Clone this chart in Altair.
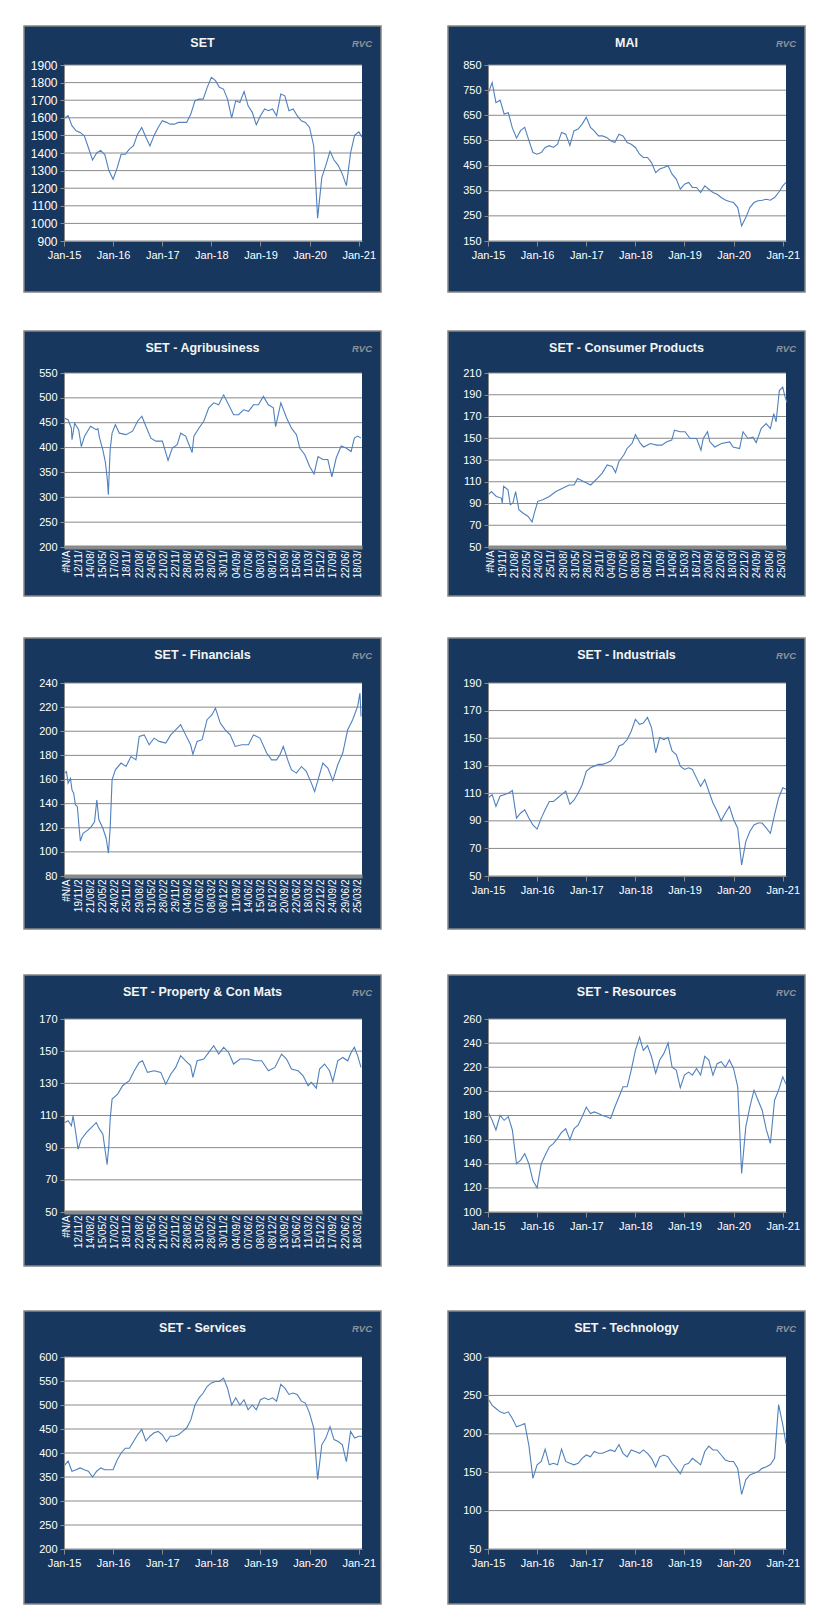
import altair as alt
import pandas as pd

# ---------------- data ----------------
months = [f"{y}-{m:02d}-01T00:00:00" for y in range(2015, 2021) for m in range(1, 13)] + \
         ["2021-01-01T00:00:00", "2021-01-25T00:00:00"]

set_vals = [1596, 1612, 1555, 1526, 1517, 1498, 1431, 1360, 1400, 1415, 1390, 1300,
            1251, 1317, 1393, 1393, 1422, 1441, 1507, 1545, 1490, 1440, 1500, 1545,
            1583, 1574, 1564, 1564, 1574, 1574, 1574, 1621, 1697, 1706, 1706, 1773,
            1830, 1811, 1773, 1763, 1706, 1600, 1697, 1687, 1750, 1668, 1631, 1560,
            1612, 1650, 1640, 1650, 1612, 1735, 1725, 1640, 1650, 1612, 1583, 1574,
            1545, 1440, 1030, 1260, 1330, 1410, 1360, 1330, 1280, 1215, 1400, 1500,
            1520, 1490]

mai_vals = [735, 780, 700, 710, 655, 660, 600, 560, 590, 602, 550, 502,
            495, 502, 522, 529, 522, 535, 582, 575, 530, 588, 595, 615,
            642, 602, 588, 568, 568, 562, 549, 542, 575, 568, 542, 535,
            522, 495, 482, 482, 462, 422, 436, 442, 449, 416, 396, 356,
            376, 383, 363, 363, 343, 369, 356, 343, 336, 323, 313, 307,
            303, 283, 210, 243, 283, 303, 310, 312, 316, 312, 323, 343,
            369, 383]

ind_vals = [106.6, 109, 100.5, 108, 109, 110, 112, 92, 95.7, 98, 92, 87,
            84, 92, 98, 104, 104, 106.6, 109, 111.5, 102, 105, 110, 116,
            126, 128.5, 129.7, 131, 131, 132, 133.4, 137, 144.3, 145.5, 149, 155,
            163.7, 160, 161, 165, 157.7, 139.4, 150.4, 149, 150.4, 140.7, 138, 129.7,
            127.3, 128.5, 127.3, 121, 115, 120, 111.5, 103, 97, 90, 95.7, 100.5,
            91, 84.7, 58, 75, 82.3, 87, 88.4, 88.4, 84.7, 81, 94.5, 106.6,
            114, 113]

res_vals = [183, 176, 168, 180, 176, 179, 168, 140, 143, 148.4, 140, 126,
            120, 140, 147, 154, 156.7, 161, 166, 169, 160, 169, 172, 179,
            187, 181.7, 183, 181.7, 180, 179, 177.5, 187, 195.5, 203.8, 203.8, 217.6,
            234, 245, 234, 238, 228.7, 215, 226, 231.5, 240, 220, 217.6, 203,
            213.5, 216, 213.5, 219, 213.5, 229, 226, 213.5, 223, 224.6, 220, 226,
            219, 203.8, 132, 170.6, 187, 201, 192.7, 184.4, 168, 157, 192.7, 201,
            212, 206]

srv_vals = [373, 383, 362, 365, 369, 365, 362, 350, 362, 369, 365, 365,
            365, 386, 400, 410, 410, 424, 438, 449, 425, 435, 442, 445,
            438, 424, 435, 435, 438, 445, 452, 469, 500, 515, 525, 539,
            546, 549, 549, 556, 535, 500, 515, 500, 511, 490, 500, 490,
            511, 515, 511, 515, 508, 543, 535, 522, 525, 522, 508, 504,
            483, 452, 345, 417, 431, 455, 428, 424, 417, 382, 445, 431,
            435, 435]

tech_vals = [246, 237, 233, 228.6, 226.5, 228.6, 220, 209, 211, 213.5, 185, 142,
             159.6, 164, 180, 159.6, 161.6, 159.6, 180, 164, 161.6, 159.6, 161.6, 168,
             172.4, 170, 177, 174.6, 174.6, 177, 179, 177, 186, 174.6, 170, 179,
             177, 174.6, 179, 174.6, 168, 157, 170, 172.4, 170, 161.6, 155, 148,
             159.6, 161.6, 168, 164, 159.6, 177, 184, 179, 179, 172.4, 166, 164,
             164, 155, 121, 140, 146.5, 148.6, 150.7, 155, 157, 160, 168, 238,
             212, 187]

# category-axis panels: position on the category axis (label index units) and value
agri_pos = [-0.19, 0.14, 0.41, 0.46, 0.68, 1.01, 1.23, 1.50, 1.99, 2.46, 2.60, 2.73, 3.01, 3.22,
            3.38, 3.46, 3.61, 3.77, 4.04, 4.37, 4.92, 5.46, 5.87, 6.23, 6.56, 6.97, 7.38, 7.92,
            8.39, 8.74, 9.15, 9.43, 9.84, 10.38, 10.52, 10.93, 11.34, 11.75, 12.16, 12.57, 12.98,
            13.39, 13.80, 14.21, 14.62, 15.03, 15.44, 15.85, 16.26, 16.67, 17.08, 17.27, 17.70,
            18.17, 18.58, 18.99, 19.26, 19.67, 20.08, 20.44, 20.77, 21.17, 21.58, 21.91, 22.27,
            22.68, 23.09, 23.50, 23.77, 24.04, 24.32]
agri_vals = [459.5, 456, 439, 416, 449, 436, 402, 423, 443, 436, 438, 420, 395, 370,
             335, 305, 396, 429, 446, 429, 426, 433, 453, 463, 443, 419, 413, 413,
             374, 399, 406, 429, 423, 390, 423, 439, 453, 480, 490, 486, 506,
             486, 466, 466, 476, 473, 486, 486, 503, 486, 480, 442, 490,
             460, 439, 426, 399, 386, 362, 347, 382, 376, 376, 341, 379,
             403, 399, 392, 419, 423, 419]
agri_labels = ["#N/A", "12/11/", "14/08/", "15/05/", "17/02/", "18/11/", "22/08/", "24/05/",
               "21/02/", "22/11/", "28/08/", "31/05/", "28/02/", "30/11/", "04/09/", "07/06/",
               "08/03/", "08/12/", "13/09/", "15/06/", "11/03/", "15/12/", "17/09/", "22/06/",
               "18/03/"]

cons_pos = [-0.19, 0.08, 0.49, 0.90, 0.98, 1.09, 1.45, 1.64, 1.86, 2.08, 2.35, 2.68, 3.09, 3.44,
            3.63, 3.91, 4.32, 4.86, 5.41, 5.96, 6.50, 6.91, 7.19, 7.73, 8.28, 8.83, 9.23, 9.64,
            10.05, 10.33, 10.60, 11.01, 11.28, 11.69, 11.97, 12.38, 12.65, 13.20, 13.74, 14.15,
            14.56, 14.97, 15.19, 15.66, 16.07, 16.48, 17.02, 17.38, 17.57, 17.92, 18.11, 18.52,
            19.07, 19.75, 20.03, 20.57, 20.85, 21.26, 21.67, 21.94, 22.35, 22.76, 23.11, 23.39,
            23.58, 23.85, 24.13, 24.32, 24.48]
cons_vals = [98, 101, 96.5, 95, 90.5, 105.7, 102.6, 89, 90.5, 101, 84.4, 81.3, 78.3, 73,
             81.3, 92, 93.5, 96.5, 101, 104, 107, 107, 113, 110, 107, 113, 118, 125.4,
             124, 118.5, 128.5, 134.6, 140.6, 145.2, 153.5, 145.2, 142, 145.2, 143.7, 143.7,
             146.7, 148.3, 157.4, 156, 156, 149.8, 149.8, 139, 149.8, 156, 146.7, 142,
             145.2, 146.7, 142, 140.6, 156, 149.8, 151, 146, 158.9, 163.5, 158.9, 172.6,
             165, 193.9, 197, 188, 183]
cons_labels = ["#N/A", "19/11/", "21/08/", "22/05/", "24/02/", "25/11/", "29/08/", "31/05/",
               "28/02/", "29/11/", "04/09/", "07/06/", "08/03/", "08/12/", "11/09/", "14/06/",
               "15/03/", "16/12/", "20/09/", "22/06/", "18/03/", "22/12/", "24/09/", "29/06/",
               "25/03/"]

fin_pos = [-0.14, 0.00, 0.14, 0.33, 0.46, 0.60, 0.74, 0.90, 1.04, 1.15, 1.37, 1.78, 2.05, 2.32,
           2.51, 2.68, 3.01, 3.28, 3.47, 3.61, 3.77, 4.04, 4.51, 4.92, 5.33, 5.74, 6.01, 6.42,
           6.83, 7.24, 7.65, 8.20, 8.61, 9.02, 9.43, 9.84, 10.25, 10.44, 10.79, 11.20, 11.61,
           12.02, 12.30, 12.70, 13.11, 13.52, 13.93, 14.48, 15.03, 15.44, 15.98, 16.53, 16.94,
           17.35, 17.62, 17.90, 18.31, 18.58, 18.99, 19.40, 19.81, 20.22, 20.49, 20.77, 21.17,
           21.58, 21.99, 22.40, 22.81, 23.22, 23.63, 24.04, 24.23, 24.32]
fin_vals = [165.3, 166.6, 157, 161, 151.4, 148.6, 139, 137.6, 121, 109, 115.4, 118.2, 121, 125,
            143, 126.6, 119.6, 111.3, 99, 119.6, 159.7, 168, 173.6, 170.8, 179, 176.3, 195.7, 197,
            188.8, 194.3, 191.6, 190.2, 197, 201.2, 205.4, 197, 188.8, 181, 191.6, 193, 209.6,
            213.7, 219.2, 206.8, 201.2, 197, 187.4, 188.8, 188.8, 197, 194.3, 181.9, 176.3,
            176.3, 180.4, 187.4, 175, 168, 165.3, 170.8, 166.6, 157, 150, 159.7, 173.6,
            169.4, 159, 172.2, 181.9, 201.2, 209.6, 220.6, 231.7, 212.3]
fin_labels = ["#N/A", "19/11/2", "21/08/2", "22/05/2", "24/02/2", "25/11/2", "29/08/2", "31/05/2",
              "28/02/2", "29/11/2", "04/09/2", "07/06/2", "08/03/2", "08/12/2", "11/09/2", "14/06/2",
              "15/03/2", "16/12/2", "20/09/2", "22/06/2", "18/03/2", "22/12/2", "24/09/2", "29/06/2",
              "25/03/2"]

prop_pos = [-0.14, 0.14, 0.41, 0.55, 0.77, 0.96, 1.23, 1.64, 2.05, 2.46, 2.73, 3.01, 3.22, 3.36,
            3.50, 3.61, 3.77, 4.23, 4.64, 5.19, 5.60, 6.01, 6.28, 6.69, 7.24, 7.79, 8.20, 8.61,
            9.02, 9.43, 9.84, 10.25, 10.44, 10.79, 11.34, 11.75, 12.16, 12.57, 12.98, 13.39,
            13.80, 14.34, 15.03, 15.57, 16.12, 16.67, 17.21, 17.76, 18.17, 18.58, 19.13, 19.54,
            19.95, 20.22, 20.63, 20.90, 21.31, 21.72, 21.99, 22.40, 22.81, 23.22, 23.50, 23.77,
            24.04, 24.32]
prop_vals = [105.6, 106.7, 103.6, 109.8, 99.4, 89, 95.3, 99.4, 102.5, 105.6, 101.5, 98.4, 87, 79.5,
             91.1, 107.7, 120.2, 123.3, 128.5, 131.6, 137.8, 143, 144, 136.8, 137.8, 136.8, 129.5, 135.7,
             139.9, 147.2, 144, 141, 133.7, 144, 145.1, 149.2, 153.4, 148.2, 152.4, 149.2,
             142, 145.1, 145.1, 144, 144, 137.8, 139.9, 148.2, 145.1, 138.9, 137.8, 134.7,
             128.5, 130.6, 127, 138.9, 142, 137.8, 131, 144, 146.1, 144, 149.2, 152.4,
             147.2, 139.9]
prop_labels = ["#N/A", "12/11/2", "14/08/2", "15/05/2", "17/02/2", "18/11/2", "22/08/2", "24/05/2",
               "21/02/2", "22/11/2", "28/08/2", "31/05/2", "28/02/2", "30/11/2", "04/09/2", "07/06/2",
               "08/03/2", "08/12/2", "13/09/2", "15/06/2", "11/03/2", "15/12/2", "17/09/2", "22/06/2",
               "18/03/2"]

set_ticks = [900, 1000, 1100, 1200, 1300, 1400, 1500, 1600, 1700, 1800, 1900]
mai_ticks = [150, 250, 350, 450, 550, 650, 750, 850]
agri_ticks = [200, 250, 300, 350, 400, 450, 500, 550]
cons_ticks = [50, 70, 90, 110, 130, 150, 170, 190, 210]
fin_ticks = [80, 100, 120, 140, 160, 180, 200, 220, 240]
ind_ticks = [50, 70, 90, 110, 130, 150, 170, 190]
prop_ticks = [50, 70, 90, 110, 130, 150, 170]
res_ticks = [100, 120, 140, 160, 180, 200, 220, 240, 260]
srv_ticks = [200, 250, 300, 350, 400, 450, 500, 550, 600]
tech_ticks = [50, 100, 150, 200, 250, 300]

# ---------------- style ----------------
NAVY = "#17375E"
BORDER = "#858585"
GRID = "#8A8A8A"
AXIS = "#8A8A8A"
LINE = "#4F81BD"
RVC_COLOR = "#8D939B"
FONT = "Liberation Sans"

W = 298
LEFT, RIGHT = 40, 19
ROWS = {1: (39, 176, 51), 2: (42, 174, 49), 3: (45, 193, 53), 4: (44, 193, 54), 5: (46, 192, 55)}


def y_enc(ticks, fs):
    return alt.Y("value:Q",
                 scale=alt.Scale(domain=[ticks[0], ticks[-1]], nice=False, zero=False),
                 axis=alt.Axis(values=ticks, format="d", title=None, grid=False, labelColor="white",
                               labelFont=FONT, labelFontSize=fs, labelPadding=3,
                               tickSize=4, tickColor=AXIS, domainColor=AXIS, zindex=1))


def x_date():
    return alt.X("date:T",
                 scale=alt.Scale(domain=[alt.DateTime(year=2015, month=1, date=1),
                                         alt.DateTime(year=2021, month=1, date=25)]),
                 axis=alt.Axis(values=[alt.DateTime(year=y, month=1, date=1) for y in range(2015, 2022)],
                               format="%b-%y", title=None, grid=False, labelColor="white",
                               labelFont=FONT, labelFontSize=11, labelPadding=3, labelFlush=False,
                               tickSize=5, tickColor=AXIS, domainColor=AXIS, zindex=1))


def x_cat(labels):
    expr = "[" + ",".join("'" + s + "'" for s in labels) + "][round(datum.value)]"
    return alt.X("pos:Q",
                 scale=alt.Scale(domain=[-0.2, 24.4], nice=False, zero=False),
                 axis=alt.Axis(values=list(range(len(labels))), labelExpr=expr, title=None, grid=False,
                               labelAngle=270, labelColor="white", labelFont=FONT, labelFontSize=10,
                               labelOverlap=False, labelFlush=False, labelPadding=3, ticks=False,
                               domainColor=AXIS, domainWidth=4, zindex=1))


def panel(name, data, xenc, ticks, yfs, row):
    top, H, bottom = ROWS[row]
    one = pd.DataFrame({"k": [0]})
    yenc = y_enc(ticks, yfs)
    box = alt.Chart(one).mark_rect(fill=NAVY, stroke=BORDER, strokeWidth=1.5).encode(
        x=alt.value(-LEFT), x2=alt.value(W + RIGHT), y=alt.value(-top), y2=alt.value(H + bottom))
    plot_bg = alt.Chart(one).mark_rect(fill="white").encode(
        x=alt.value(0), x2=alt.value(W), y=alt.value(0), y2=alt.value(H))
    grid = alt.Chart(pd.DataFrame({"value": ticks})).mark_rule(color=GRID, strokeWidth=1).encode(
        y=yenc, x=alt.value(0), x2=alt.value(W))
    line = alt.Chart(data).mark_line(color=LINE, strokeWidth=1.1).encode(x=xenc, y=yenc)
    title = alt.Chart(one).mark_text(text=name, font=FONT, fontSize=12.5, fontWeight="bold",
                                     color="#F4F4F4", align="center", baseline="middle").encode(
        x=alt.value((LEFT + W + RIGHT) / 2 - LEFT), y=alt.value(-(top - 17)))
    rvc = alt.Chart(one).mark_text(text="RVC", font=FONT, fontSize=9.5, fontWeight="bold",
                                   fontStyle="italic", color=RVC_COLOR, align="right",
                                   baseline="middle").encode(
        x=alt.value(W + RIGHT - 9), y=alt.value(-(top - 18)))
    return alt.layer(box, plot_bg, grid, line, title, rvc).properties(width=W, height=H)


def dated(vals):
    return pd.DataFrame({"date": months, "value": vals})


def cat(pos, vals):
    return pd.DataFrame({"pos": pos, "value": vals})


p_set = panel("SET", dated(set_vals), x_date(), set_ticks, 12, 1)
p_mai = panel("MAI", dated(mai_vals), x_date(), mai_ticks, 11, 1)
p_agri = panel("SET - Agribusiness", cat(agri_pos, agri_vals), x_cat(agri_labels), agri_ticks, 11, 2)
p_cons = panel("SET - Consumer Products", cat(cons_pos, cons_vals), x_cat(cons_labels), cons_ticks, 11, 2)
p_fin = panel("SET - Financials", cat(fin_pos, fin_vals), x_cat(fin_labels), fin_ticks, 11, 3)
p_ind = panel("SET - Industrials", dated(ind_vals), x_date(), ind_ticks, 11, 3)
p_prop = panel("SET - Property & Con Mats", cat(prop_pos, prop_vals), x_cat(prop_labels), prop_ticks, 11, 4)
p_res = panel("SET - Resources", dated(res_vals), x_date(), res_ticks, 11, 4)
p_srv = panel("SET - Services", dated(srv_vals), x_date(), srv_ticks, 11, 5)
p_tech = panel("SET - Technology", dated(tech_vals), x_date(), tech_ticks, 11, 5)

r1, r2, r3, r4, r5 = [alt.hconcat(a, b, spacing=65) for a, b in
                      [(p_set, p_mai), (p_agri, p_cons), (p_fin, p_ind), (p_prop, p_res), (p_srv, p_tech)]]

lower = alt.vconcat(r4, r5, spacing=43)
lower = alt.vconcat(r3, lower, spacing=44)
lower = alt.vconcat(r2, lower, spacing=40)

chart = alt.vconcat(r1, lower, spacing=37).properties(
    padding={"left": 15, "top": 17, "right": 5, "bottom": 5},
    background="white",
).configure_view(stroke=None)

chart.save("out.html", embed_options={"renderer": "svg", "actions": False})
